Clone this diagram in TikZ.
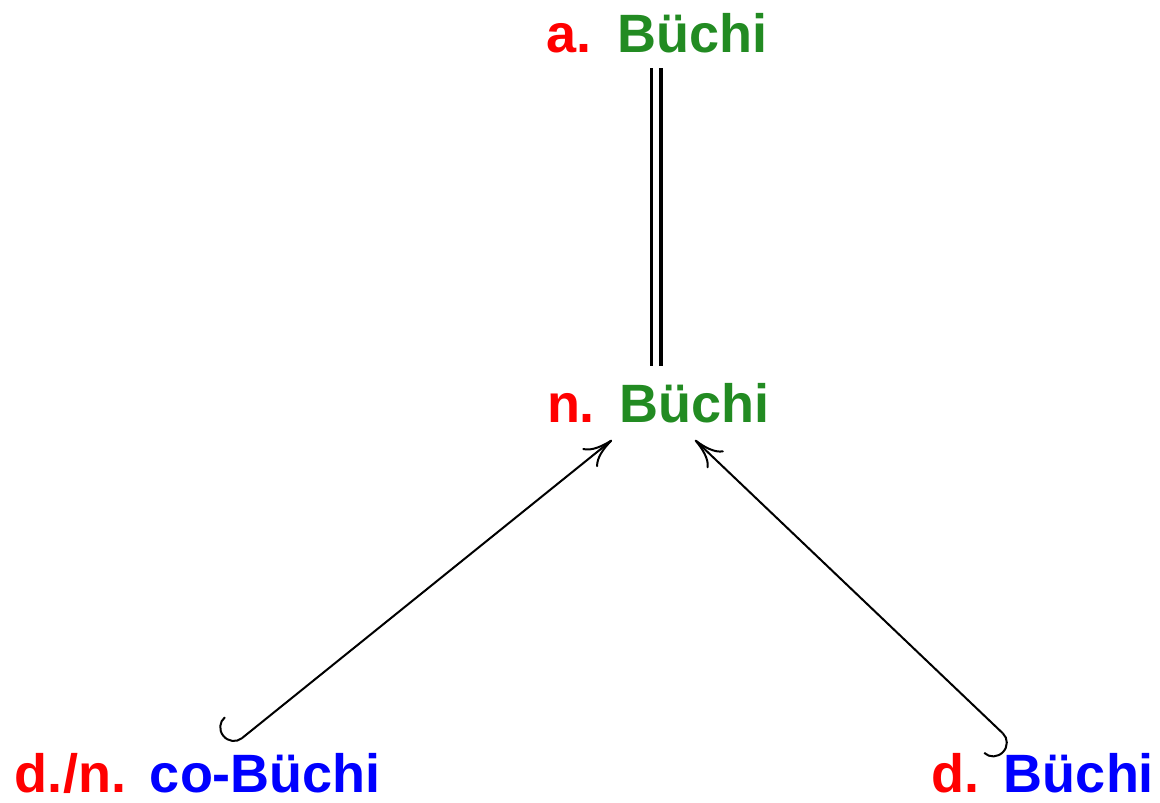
\documentclass[tikz,border=0pt]{standalone}
\usepackage{fontspec}
\setmainfont{Liberation Sans}
\usetikzlibrary{arrows.meta}
\definecolor{lblred}{RGB}{255,0,0}
\definecolor{lblgreen}{RGB}{34,139,34}
\definecolor{lblblue}{RGB}{0,0,255}
\tikzset{
  lbl/.style={inner sep=0pt, outer sep=0pt, anchor=base west, font=\fontsize{54}{60}\selectfont\bfseries},
  conn/.style={line width=2pt, {Hooks[right,length=14pt,width=56pt]}-{Computer Modern Rightarrow[length=29pt,width=24pt]}},
  eqv/.style={double, double distance=6pt, line width=3.5pt}
}
\begin{document}
\begin{tikzpicture}[x=1pt,y=-1pt]
\useasboundingbox (0,0) rectangle (1160,803);
\node[lbl] (ab) at (546,52) {\textcolor{lblred}{a.}\hspace{26pt}\textcolor{lblgreen}{Büchi}};
\node[lbl] (nb) at (547,422) {\textcolor{lblred}{n.}\hspace{25pt}\textcolor{lblgreen}{Büchi}};
\node[lbl] (dncb) at (15,792) {\textcolor{lblred}{d./n.}\hspace{24pt}\textcolor{lblblue}{co-Büchi}};
\node[lbl] (db) at (931,792) {\textcolor{lblred}{d.}\hspace{25pt}\textcolor{lblblue}{Büchi}};
\coordinate (abS) at ([shift={(110,16)}]ab.base west);
\coordinate (nbN) at ([shift={(109,-56)}]nb.base west);
\coordinate (nbL) at ([shift={(65,18)}]nb.base west);
\coordinate (nbR) at ([shift={(148,18)}]nb.base west);
\coordinate (dncbT) at ([shift={(216,-45)}]dncb.base west);
\coordinate (dbT) at ([shift={(82,-49)}]db.base west);
\draw[eqv] (abS) -- (nbN);
\draw[conn] (dncbT) -- (nbL);
\draw[conn] (dbT) -- (nbR);
\end{tikzpicture}
\end{document}
